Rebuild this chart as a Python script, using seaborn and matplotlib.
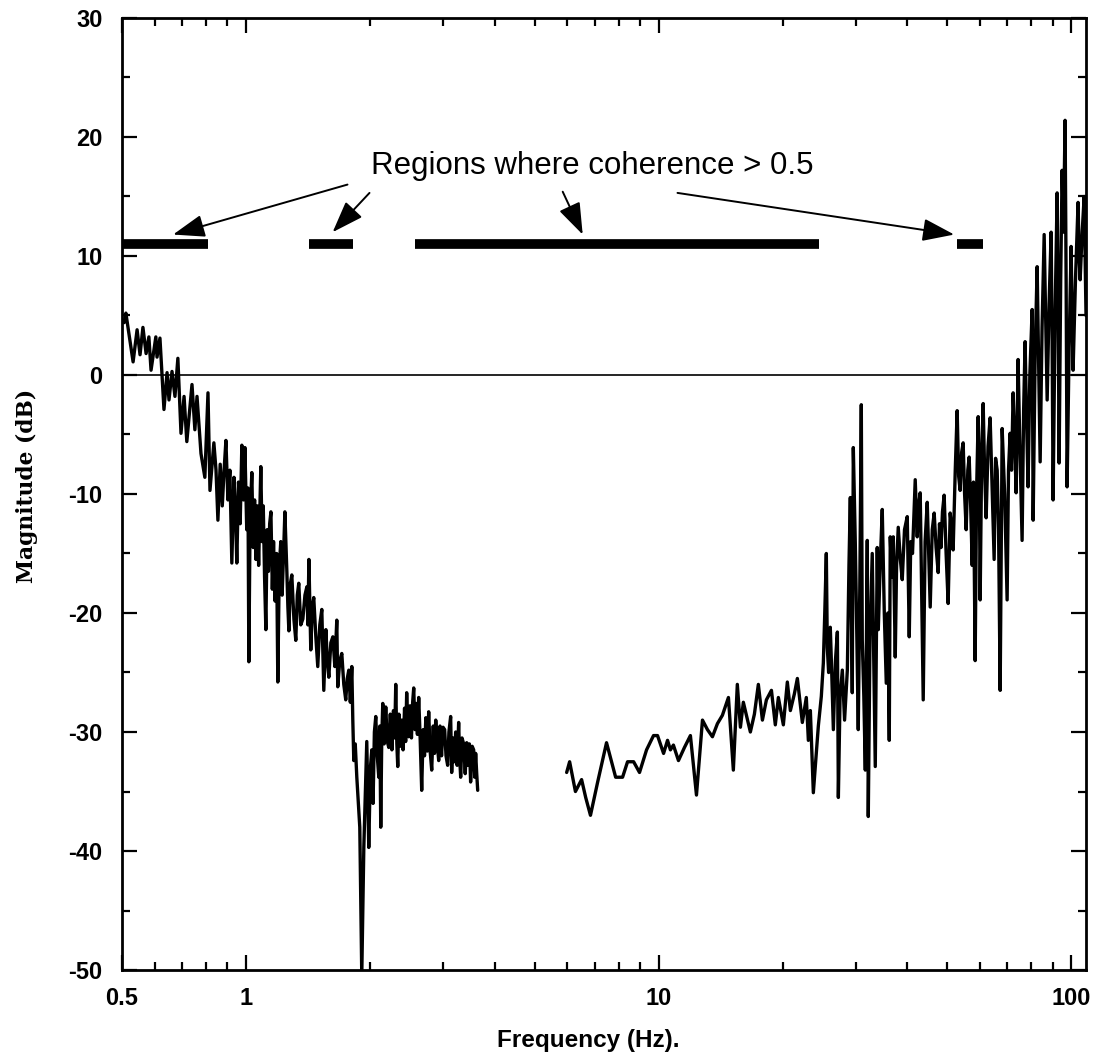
import numpy as np
import pandas as pd
import matplotlib
matplotlib.use("Agg")
import matplotlib.pyplot as plt
from matplotlib.ticker import LogLocator, MultipleLocator, NullFormatter
import seaborn as sns

sns.set_style("ticks")
plt.rcParams['font.family'] = ['Liberation Sans', 'DejaVu Sans']
plt.rcParams['axes.unicode_minus'] = False
plt.rcParams['text.color'] = 'black'
plt.rcParams['axes.labelcolor'] = 'black'
plt.rcParams['xtick.color'] = 'black'
plt.rcParams['ytick.color'] = 'black'
plt.rcParams['axes.edgecolor'] = 'black'

# low-frequency segment (Hz, dB)
freq_lo = [0.506, 0.511, 0.532, 0.544, 0.553, 0.562, 0.572, 0.581, 0.588, 0.604,
           0.608, 0.618, 0.632, 0.643, 0.650, 0.661, 0.672, 0.683, 0.695, 0.707,
           0.718, 0.739, 0.751, 0.760, 0.777, 0.794, 0.808, 0.817, 0.835, 0.845,
           0.854, 0.865, 0.875, 0.884, 0.893, 0.903, 0.913, 0.923, 0.934, 0.941,
           0.949, 0.958, 0.967, 0.976, 0.985, 0.993, 1.003, 1.010, 1.015, 1.022,
           1.032, 1.040, 1.048, 1.056, 1.064, 1.072, 1.085, 1.093, 1.100, 1.108,
           1.116, 1.124, 1.132, 1.140, 1.148, 1.157, 1.165, 1.175, 1.185, 1.193,
           1.203, 1.213, 1.222, 1.232, 1.241, 1.255, 1.262, 1.269, 1.280, 1.290,
           1.305, 1.319, 1.330, 1.341, 1.356, 1.372, 1.388, 1.403, 1.411, 1.419,
           1.434, 1.446, 1.458, 1.475, 1.491, 1.508, 1.525, 1.542, 1.560, 1.573,
           1.586, 1.604, 1.622, 1.640, 1.658, 1.667, 1.686, 1.705, 1.724, 1.743,
           1.758, 1.773, 1.788, 1.803, 1.813, 1.823, 1.838, 1.854, 1.870, 1.885,
           1.906, 1.928, 1.960, 1.982, 2.000, 2.016, 2.030, 2.045, 2.061, 2.078,
           2.096, 2.108, 2.119, 2.131, 2.143, 2.160, 2.179, 2.198, 2.216, 2.235,
           2.255, 2.275, 2.290, 2.304, 2.318, 2.330, 2.345, 2.362, 2.382, 2.400,
           2.420, 2.435, 2.449, 2.463, 2.477, 2.495, 2.515, 2.532, 2.547, 2.565,
           2.583, 2.600, 2.619, 2.640, 2.663, 2.685, 2.705, 2.725, 2.748, 2.769,
           2.790, 2.816, 2.840, 2.860, 2.880, 2.905, 2.928, 2.950, 2.975, 3.000,
           3.027, 3.050, 3.078, 3.100, 3.130, 3.148, 3.170, 3.195, 3.219, 3.245,
           3.273, 3.290, 3.310, 3.335, 3.366, 3.395, 3.423, 3.450, 3.475, 3.499,
           3.530, 3.559, 3.580, 3.599, 3.620, 3.640]
mag_lo = [4.4, 5.2, 1.1, 3.8, 1.7, 4.0, 1.8, 3.2, 0.4, 3.2,
          1.5, 3.1, -2.9, 0.2, -2.1, 0.3, -1.8, 1.4, -4.9, -1.8,
          -5.6, -0.8, -4.6, -1.8, -6.6, -8.6, -1.5, -9.7, -5.7, -8.0,
          -12.2, -7.5, -11.0, -8.0, -5.5, -10.5, -8.0, -15.8, -8.6, -11.0,
          -15.8, -9.0, -12.5, -5.9, -10.5, -6.1, -13.0, -9.5, -24.1, -12.0,
          -8.2, -14.5, -10.5, -15.5, -11.0, -16.0, -7.7, -14.0, -11.0, -17.0,
          -21.4, -13.0, -16.5, -12.5, -11.5, -18.0, -14.0, -19.0, -15.0, -25.8,
          -16.0, -14.0, -18.5, -15.0, -11.5, -16.6, -19.5, -21.5, -17.5, -16.8,
          -20.5, -22.3, -18.5, -17.5, -21.0, -20.5, -18.5, -17.8, -21.0, -15.5,
          -23.1, -19.5, -18.7, -22.0, -24.5, -21.0, -19.7, -26.5, -21.4, -24.0,
          -25.4, -22.5, -22.0, -24.5, -20.6, -26.2, -24.0, -23.4, -26.0, -27.3,
          -25.5, -24.8, -27.5, -24.5, -29.0, -32.4, -31.0, -33.8, -36.0, -38.0,
          -50.5, -39.7, -30.8, -39.7, -33.0, -31.5, -36.0, -30.0, -28.7, -32.0,
          -33.8, -29.5, -38.0, -30.5, -27.6, -31.0, -27.9, -30.8, -31.3, -28.5,
          -31.5, -28.2, -30.5, -26.0, -31.0, -32.9, -28.5, -31.2, -29.0, -31.5,
          -28.0, -30.8, -26.7, -29.5, -30.4, -27.8, -30.5, -27.5, -26.3, -29.8,
          -27.6, -30.2, -27.1, -30.5, -34.9, -29.8, -32.0, -28.8, -31.6, -28.3,
          -31.5, -33.2, -29.5, -31.8, -29.0, -31.0, -32.4, -29.5, -32.0, -29.6,
          -29.8, -32.0, -32.8, -30.0, -28.7, -33.4, -30.5, -32.5, -30.0, -32.8,
          -29.2, -32.0, -33.8, -30.5, -31.0, -33.5, -30.9, -32.8, -31.0, -34.2,
          -31.2, -31.5, -33.8, -31.8, -33.5, -34.9]

# high-frequency segment (Hz, dB)
freq_hi = [5.98, 6.08, 6.28, 6.50, 6.65, 6.83, 7.11, 7.47, 7.86, 8.17,
           8.40, 8.69, 8.98, 9.34, 9.71, 9.93, 10.27, 10.50, 10.67, 10.85,
           11.16, 11.54, 11.93, 12.34, 12.76, 13.12, 13.49, 13.87, 14.26, 14.75,
           15.16, 15.50, 15.77, 16.03, 16.67, 17.05, 17.43, 17.83, 18.23, 18.75,
           19.16, 19.49, 20.04, 20.49, 20.84, 21.31, 21.67, 22.28, 22.78, 23.04,
           23.30, 23.69, 24.36, 24.77, 25.05, 25.25, 25.47, 25.61, 25.80, 26.04,
           26.25, 26.49, 26.80, 27.09, 27.24, 27.50, 27.85, 28.20, 28.64, 28.90,
           29.12, 29.44, 29.61, 29.94, 30.20, 30.44, 30.70, 30.96, 31.13, 31.40,
           31.66, 32.01, 32.19, 32.50, 32.91, 33.20, 33.47, 33.84, 34.04, 34.40,
           34.80, 35.20, 35.59, 35.90, 36.19, 36.39, 36.70, 37.01, 37.42, 37.70,
           38.05, 38.50, 38.91, 39.40, 40.01, 40.46, 40.80, 41.20, 41.83, 42.30,
           42.60, 43.01, 43.74, 44.20, 44.73, 45.10, 45.48, 46.00, 46.50, 47.00,
           47.55, 47.90, 48.30, 48.70, 49.16, 49.70, 50.27, 50.84, 51.30, 51.69,
           52.30, 52.86, 53.30, 53.75, 54.20, 54.66, 55.10, 55.59, 56.10, 56.53,
           57.00, 57.49, 57.90, 58.45, 58.90, 59.44, 59.80, 60.10, 60.60, 61.12,
           61.60, 62.15, 62.80, 63.54, 64.20, 64.98, 65.50, 66.09, 66.60, 67.20,
           67.95, 68.90, 69.86, 70.40, 71.04, 71.60, 72.24, 72.80, 73.46, 74.27,
           74.90, 75.95, 76.60, 77.23, 77.90, 78.53, 79.30, 80.33, 80.78, 81.70,
           82.60, 83.30, 84.00, 84.90, 85.90, 86.60, 87.35, 88.30, 89.31, 89.80,
           90.30, 91.30, 92.35, 92.90, 93.38, 94.20, 94.95, 95.70, 96.54, 97.10,
           97.63, 98.70, 99.84, 100.4, 100.95, 102.3, 103.8, 104.4, 105.0, 106.2,
           107.4, 108.5]
mag_hi = [-33.4, -32.5, -35.0, -34.0, -35.5, -37.0, -34.2, -30.9, -33.8, -33.8,
          -32.5, -32.5, -33.4, -31.5, -30.3, -30.3, -31.8, -30.7, -31.5, -31.1,
          -32.4, -31.3, -30.3, -35.3, -29.0, -29.8, -30.4, -29.3, -28.6, -27.1,
          -33.2, -26.0, -29.6, -27.5, -30.0, -28.5, -26.0, -29.0, -27.3, -26.5,
          -29.4, -27.1, -29.4, -25.8, -28.2, -26.8, -25.5, -29.2, -27.1, -30.7,
          -28.2, -35.1, -29.5, -27.0, -24.2, -20.0, -15.0, -22.9, -25.0, -21.2,
          -25.0, -29.8, -24.0, -21.6, -35.5, -27.0, -24.8, -29.0, -24.8, -16.0,
          -10.3, -26.7, -6.1, -14.1, -22.0, -29.8, -18.0, -2.5, -22.3, -27.0,
          -33.2, -13.9, -37.1, -22.0, -15.0, -24.0, -32.9, -14.5, -21.4, -16.0,
          -11.3, -20.0, -25.9, -20.0, -30.7, -13.6, -17.0, -13.6, -23.7, -16.0,
          -12.8, -15.5, -17.2, -13.0, -11.9, -22.0, -14.0, -15.0, -8.8, -13.6,
          -11.0, -9.9, -27.3, -14.0, -10.7, -15.0, -19.5, -13.0, -11.6, -14.5,
          -16.6, -12.5, -14.5, -11.5, -10.1, -15.0, -19.2, -11.6, -13.0, -14.7,
          -8.0, -3.0, -8.5, -9.7, -6.5, -5.7, -10.0, -13.0, -8.0, -6.9,
          -11.0, -16.0, -9.0, -24.0, -10.0, -3.5, -8.0, -18.9, -7.0, -2.4,
          -8.0, -12.0, -6.0, -3.6, -9.0, -15.5, -7.0, -8.0, -13.0, -26.5,
          -4.5, -10.0, -18.9, -8.0, -4.9, -8.0, -1.5, -5.0, -9.9, 1.3,
          -5.0, -13.9, -3.0, 2.8, -4.0, -9.4, 0.0, 5.5, -12.2, 2.0,
          9.1, 1.0, -7.3, 4.0, 11.8, 5.0, -2.1, 6.0, 12.0, 3.0,
          -10.5, 5.0, 15.3, 5.0, -7.4, 8.0, 17.2, 12.0, 21.4, 8.0,
          -9.4, 2.0, 10.8, 5.0, 0.4, 8.0, 14.5, 10.0, 8.0, 12.0,
          15.0, 5.0]

# regions where coherence > 0.5
coh_start = [0.5, 1.42, 2.56, 52.9]
coh_end = [0.808, 1.82, 24.5, 61.1]
coh_level = 11

# annotation arrows: tail (x, y) -> head (x, y)
arrow_tail_x = [1.76, 1.99, 5.85, 11.1]
arrow_tail_y = [16.0, 15.3, 15.4, 15.3]
arrow_head_x = [0.665, 1.62, 6.54, 52.0]
arrow_head_y = [11.8, 12.0, 11.8, 11.8]

df_lo = pd.DataFrame({'freq': freq_lo, 'mag': mag_lo})
df_hi = pd.DataFrame({'freq': freq_hi, 'mag': mag_hi})

fig = plt.figure(figsize=(10.94, 10.57), dpi=100)
ax = fig.add_axes([0.1115, 0.0823, 0.8812, 0.9007])

sns.lineplot(data=df_lo, x='freq', y='mag', sort=False, estimator=None,
             color='black', linewidth=2.4, ax=ax)
sns.lineplot(data=df_hi, x='freq', y='mag', sort=False, estimator=None,
             color='black', linewidth=2.4, ax=ax)

ax.axhline(0, color='black', linewidth=1.2)
ax.hlines([coh_level] * len(coh_start), coh_start, coh_end, color='black',
          linewidth=7)

ax.text(6.91, 17.6, 'Regions where coherence > 0.5', ha='center', va='center',
        fontsize=22.5)
for tx, ty, hx, hy in zip(arrow_tail_x, arrow_tail_y, arrow_head_x, arrow_head_y):
    ax.annotate('', xy=(hx, hy), xytext=(tx, ty),
                arrowprops=dict(arrowstyle='-|>,head_length=0.7,head_width=0.25',
                                color='black', lw=1.4,
                                mutation_scale=28, shrinkA=0, shrinkB=0))

ax.set_xscale('log')
ax.set_xlim(0.5, 108.5)
ax.set_ylim(-50, 30)
ax.set_xticks([0.5, 1, 10, 100])
ax.set_xticklabels(['0.5', '1', '10', '100'])
ax.xaxis.set_minor_locator(LogLocator(base=10, subs=range(2, 10)))
ax.xaxis.set_minor_formatter(NullFormatter())
ax.yaxis.set_major_locator(MultipleLocator(10))
ax.yaxis.set_minor_locator(MultipleLocator(5))

ax.tick_params(which='both', direction='in', top=True, right=True, width=1.6)
ax.tick_params(which='major', length=11)
ax.tick_params(which='minor', length=6)
ax.tick_params(axis='x', which='major', pad=12, labelsize=17)
ax.tick_params(axis='y', which='major', pad=14, labelsize=17)
for lab in ax.get_xticklabels() + ax.get_yticklabels():
    lab.set_fontweight('bold')
for sp in ax.spines.values():
    sp.set_linewidth(2.0)

ax.set_xlabel('Frequency (Hz).', fontsize=17.5, fontweight='bold')
ax.xaxis.set_label_coords(0.484, -0.062)
ax.set_ylabel('Magnitude (dB)', fontsize=15.7, fontweight='bold',
              family=['DejaVu Serif'])
ax.yaxis.set_label_coords(-0.087, 0.508)

fig.savefig('out.png', dpi=100)
